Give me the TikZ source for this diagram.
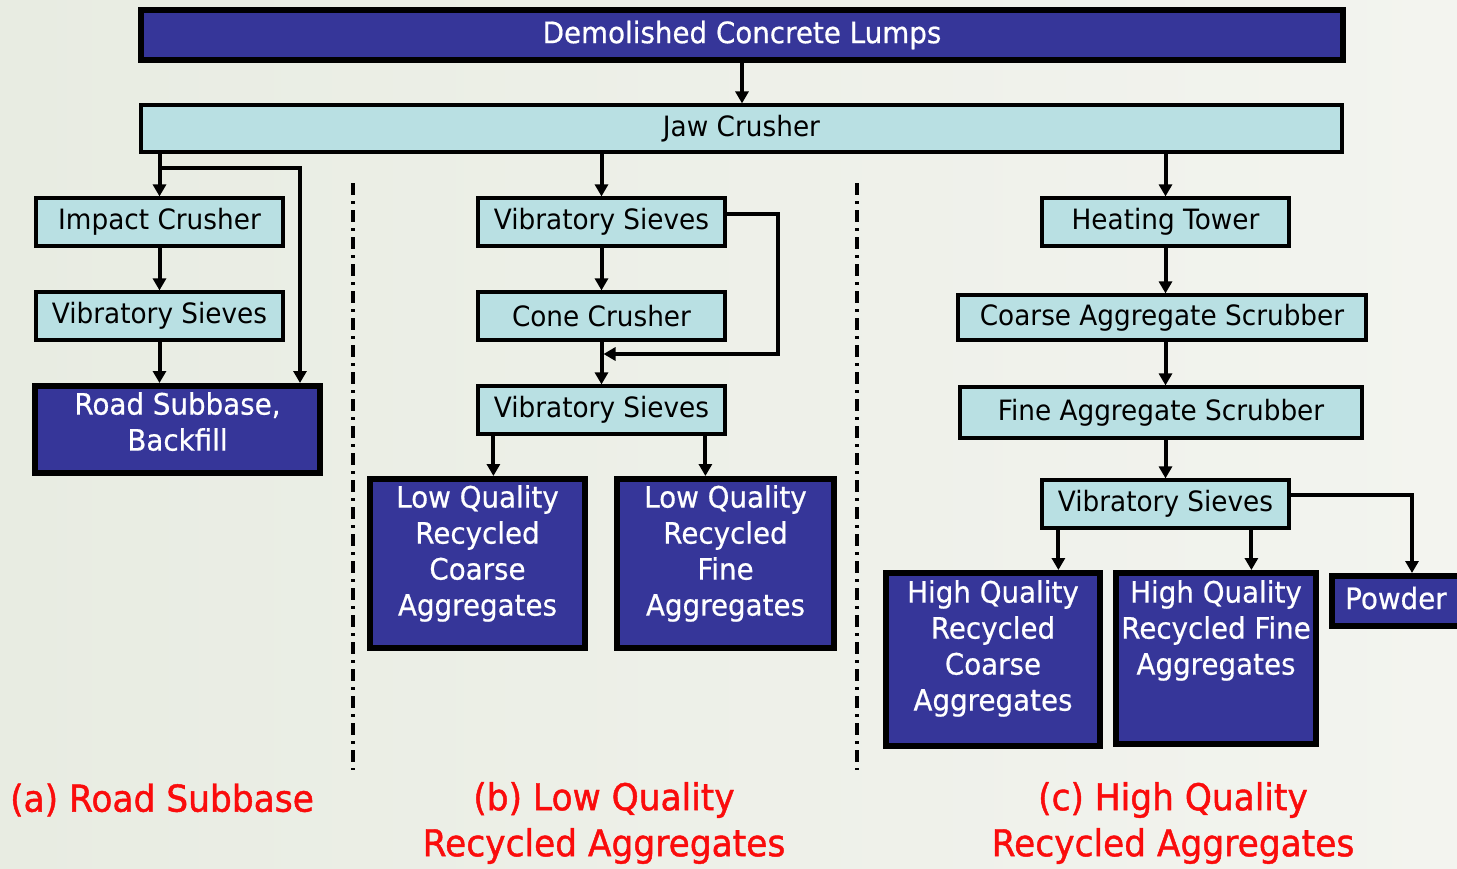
\documentclass[tikz,border=0pt]{standalone}
\usepackage{fontspec}
\setmainfont{DejaVu Sans}[FakeStretch=0.94]
\newfontfamily\lblfont{DejaVu Sans}[FakeStretch=0.93,FakeBold=1.2]
\newfontfamily\whitefont{DejaVu Sans}[FakeStretch=0.94,FakeBold=0.6]
\usetikzlibrary{arrows.meta,calc}
\definecolor{dkblue}{RGB}{54,54,153}
\definecolor{ltcyan}{RGB}{185,224,227}
\definecolor{bgl}{RGB}{232,236,226}
\definecolor{bgr}{RGB}{243,244,239}
\definecolor{lblred}{RGB}{250,12,12}
\begin{document}
\begin{tikzpicture}[x=1pt,y=-1pt,
 lbox/.style={draw=black,line width=3.2pt,fill=ltcyan,inner sep=0pt,font=\fontsize{28}{34}\selectfont},
 dbox/.style={draw=black,line width=6pt,fill=dkblue,inner sep=0pt,text=white,font=\whitefont\fontsize{29.5}{34}\selectfont},
 dtext/.style={text=white,anchor=north,align=center,inner sep=0pt,font=\whitefont\fontsize{29.5}{36}\selectfont},
 arr/.style={line width=4pt,-{Triangle[length=12pt,width=13pt]}},
 sepline/.style={line width=3.2pt,dash pattern=on 12pt off 6pt on 3pt off 6pt},
 lbl/.style={text=lblred,font=\lblfont\fontsize{37}{46}\selectfont,inner sep=0pt,align=center}]
\shade[left color=bgl,right color=bgr] (0,0) rectangle (1457,868);
\useasboundingbox (0,0) rectangle (1457,868);
\clip (0,0) rectangle (1457,868);

% top
\node[dbox,minimum width=1202,minimum height=50] (top) at (742,35) {Demolished Concrete Lumps};
\node[lbox,minimum width=1201,minimum height=47] (jaw) at (741.5,128.5) {Jaw Crusher};
\draw[arr] (top.south) -- (top.south |- jaw.north);

% (a)
\node[lbox,minimum width=247,minimum height=48] (ic) at (159.5,222) {Impact Crusher};
\node[lbox,minimum width=247,minimum height=48] (vsa) at (159.5,316) {Vibratory Sieves};
\node[dbox,minimum width=285,minimum height=87] (rs) at (177.5,429.5) {};
\node[dtext] (rst) at ($(rs.north)+(0,9)$) {Road Subbase,\\Backfill};
\coordinate (bend) at (300,168);
\draw[arr] (jaw.south -| ic.north) -- (ic.north);
\draw[arr] (ic.north |- bend) -- (bend) -- (bend |- rs.north);
\draw[arr] (ic.south) -- (vsa.north);
\draw[arr] (vsa.south) -- (vsa.south |- rs.north);

% (b)
\node[lbox,minimum width=247,minimum height=48] (vsb1) at (601.5,222) {Vibratory Sieves};
\node[lbox,minimum width=247,minimum height=48] (cc) at (601.5,316) {Cone Crusher};
\node[lbox,minimum width=247,minimum height=48] (vsb2) at (601.5,410) {Vibratory Sieves};
\node[dbox,minimum width=215,minimum height=169] (lqc) at (477.5,563.5) {};
\node[dtext] (lqct) at ($(lqc.north)+(0,9)$) {Low Quality\\Recycled\\Coarse\\Aggregates};
\node[dbox,minimum width=217,minimum height=169] (lqf) at (725.5,563.5) {};
\node[dtext] (lqft) at ($(lqf.north)+(0,9)$) {Low Quality\\Recycled\\Fine\\Aggregates};
\draw[arr] (jaw.south -| vsb1.north) -- (vsb1.north);
\draw[arr] (vsb1.south) -- (cc.north);
\draw[arr] (cc.south) -- (vsb2.north);
\coordinate (fb) at (778,354);
\coordinate (fbend) at ($(fb -| cc.south)+(2,0)$);
\draw[arr] ($(vsb1.east)+(0,-8)$) -| (fb) -- (fbend);
\coordinate (b1) at ($(vsb2.south west)+(17,0)$);
\coordinate (b2) at ($(vsb2.south west)+(229,0)$);
\draw[arr] (b1) -- (b1 |- lqc.north);
\draw[arr] (b2) -- (b2 |- lqf.north);

% (c)
\node[lbox,minimum width=247,minimum height=48] (ht) at (1165.5,222) {Heating Tower};
\node[lbox,minimum width=408,minimum height=45] (cas) at (1162,317.5) {Coarse Aggregate Scrubber};
\node[lbox,minimum width=402,minimum height=51] (fas) at (1161,412.5) {Fine Aggregate Scrubber};
\node[lbox,minimum width=247,minimum height=48] (vsc) at (1165.5,504) {Vibratory Sieves};
\node[dbox,minimum width=214,minimum height=173] (hqc) at (993,659.5) {};
\node[dtext] (hqct) at ($(hqc.north)+(0,10)$) {High Quality\\Recycled\\Coarse\\Aggregates};
\node[dbox,minimum width=200,minimum height=171] (hqf) at (1216,658.5) {};
\node[dtext] (hqft) at ($(hqf.north)+(0,10)$) {High Quality\\Recycled Fine\\Aggregates};
\node[dbox,minimum width=160,minimum height=50,anchor=north west] (pw) at (1329,573) {};
\node[text=white,inner sep=0pt,anchor=west,font=\whitefont\fontsize{29.5}{34}\selectfont] (pwt) at ($(pw.west)+(16,-3)$) {Powder};
\draw[arr] (jaw.south -| ht.north) -- (ht.north);
\draw[arr] (ht.south) -- (ht.south |- cas.north);
\draw[arr] (ht.south |- cas.south) -- (ht.south |- fas.north);
\draw[arr] (vsc.north |- fas.south) -- (vsc.north);
\coordinate (c1) at ($(vsc.south west)+(18,0)$);
\coordinate (c2) at ($(vsc.south west)+(211,0)$);
\draw[arr] (c1) -- (c1 |- hqc.north);
\draw[arr] (c2) -- (c2 |- hqf.north);
\coordinate (pc) at ($(pw.north west)+(83,0)$);
\draw[arr] ($(vsc.east)+(0,-9)$) -| (pc);

% separators
\draw[sepline] (353,183) -- (353,770);
\draw[sepline] (857,183) -- (857,770);

% labels
\node[lbl,anchor=west] (la) at (10,800) {(a) Road Subbase};
\node[lbl] (lb) at (604,823) {(b) Low Quality\\Recycled Aggregates};
\node[lbl] (lc) at (1173,823) {(c) High Quality\\Recycled Aggregates};
\end{tikzpicture}
\end{document}
